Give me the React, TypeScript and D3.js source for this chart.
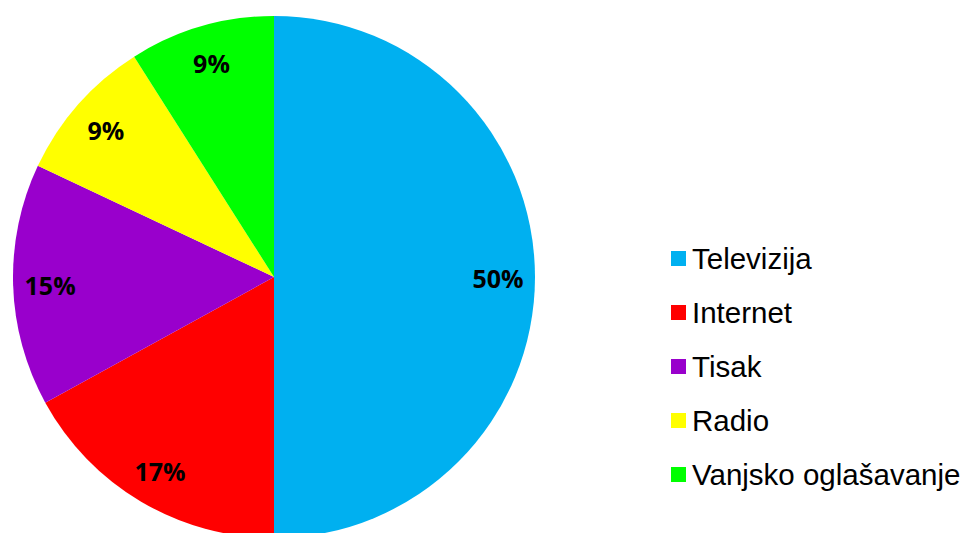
import React, { useEffect, useRef } from 'react';
import * as d3 from 'd3';

const categories = ['Televizija', 'Internet', 'Tisak', 'Radio', 'Vanjsko oglašavanje'];
const values = [50, 17, 15, 9, 9];
const colors = ['#00B0F0', '#FF0000', '#9900CC', '#FFFF00', '#00FF00'];

const App = () => {
    const ref = useRef<SVGSVGElement>(null);

    const graph = () => {
        const svgCanvas = d3.select(ref.current);
        svgCanvas.selectAll('g').remove();

        const cx = 274, cy = 277, radius = 261;
        const total = d3.sum(values);

        const items = categories.map((name, i) => ({ name, value: values[i], color: colors[i] }));

        const pie = d3.pie<any>().sort(null).value(d => d.value);
        const arc = d3.arc<any>().innerRadius(0).outerRadius(radius);
        const labelArc = d3.arc<any>().innerRadius(224).outerRadius(224);

        const g = svgCanvas.append('g').attr('transform', `translate(${cx}, ${cy})`);

        g.selectAll('path.slice')
            .data(pie(items))
            .enter()
            .append('path')
            .attr('class', 'slice')
            .attr('d', arc)
            .attr('fill', d => d.data.color);

        g.selectAll('text.pct')
            .data(pie(items))
            .enter()
            .append('text')
            .attr('class', 'pct')
            .attr('transform', d => `translate(${labelArc.centroid(d)})`)
            .attr('text-anchor', 'middle')
            .attr('dy', '0.45em')
            .style('font-family', '"Open Sans", sans-serif')
            .style('font-weight', '700')
            .style('font-size', '25px')
            .style('fill', '#000')
            .text(d => `${Math.round((d.data.value / total) * 100)}%`);

        // legend
        const legendY = d3.scalePoint().domain(categories).range([258.5, 474.5]);
        const legend = svgCanvas.append('g').attr('class', 'legend');

        const rows = legend.selectAll('g.row')
            .data(items)
            .enter()
            .append('g')
            .attr('class', 'row')
            .attr('transform', d => `translate(0, ${legendY(d.name)})`);

        rows.append('rect')
            .attr('x', 671)
            .attr('y', -7.5)
            .attr('width', 15)
            .attr('height', 15)
            .attr('fill', d => d.color);

        rows.append('text')
            .attr('x', 692)
            .attr('y', 10)
            .style('font-family', '"Liberation Sans", Arial, sans-serif')
            .style('font-size', '29.5px')
            .style('fill', '#000')
            .text(d => d.name);
    };

    useEffect(() => graph());

    return (
        <svg
            ref={ref}
            width="962"
            height="533"
            style={{ position: 'absolute', left: 0, top: 0, background: '#fff' }}
        ></svg>
    );
};

export default App;
